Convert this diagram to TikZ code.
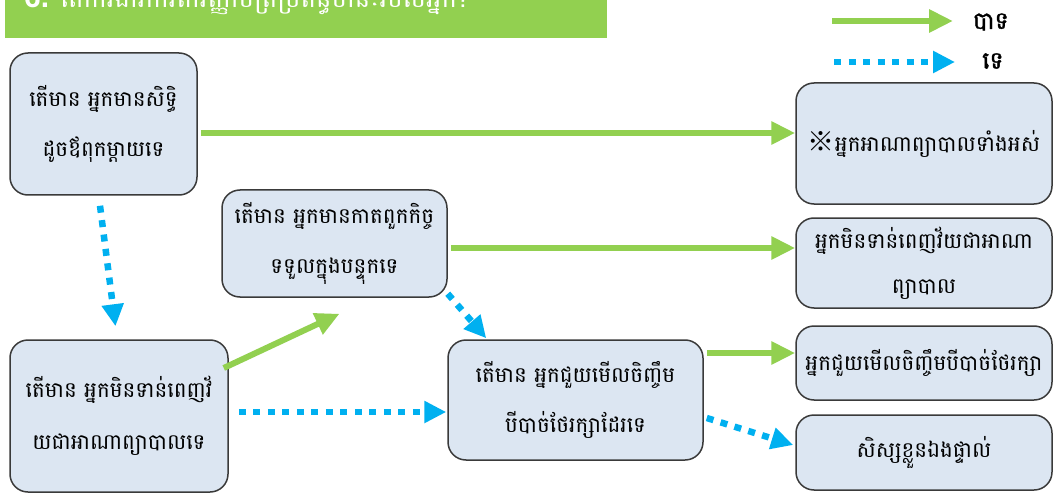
\documentclass[tikz,border=0pt]{standalone}
\usepackage{fontspec}
\usetikzlibrary{arrows.meta}
\newfontfamily\kh[Script=Khmer]{Battambang}
\newfontfamily\khb[Script=Khmer,FakeBold=1.6]{Battambang}
\newfontfamily\jpf{Noto Sans CJK JP}
\setsansfont{Liberation Sans}
\definecolor{ygreen}{HTML}{92D050}
\definecolor{yblue}{HTML}{00B0F0}
\definecolor{boxfill}{HTML}{DCE6F2}
\definecolor{boxline}{HTML}{3A3A3A}
\tikzset{
  qbox/.style={draw=boxline, line width=1.5pt, fill=boxfill, rounded corners=18pt,
    inner sep=0pt, align=center, font=\kh\fontsize{21.5}{50}\selectfont},
  yesarrow/.style={draw=ygreen, line width=6pt,
    -{Triangle[length=24pt,width=22pt,fill=ygreen]}},
  noarrow/.style={draw=yblue, line width=6.5pt, dash pattern=on 7pt off 7.5pt,
    -{Triangle[length=22pt,width=21pt,fill=yblue]}},
}
\begin{document}
\begin{tikzpicture}[x=1pt,y=-1pt]
\useasboundingbox (0,0) rectangle (1054,497);
\fill[white] (0,0) rectangle (1054,497);
% title banner
\fill[ygreen] (5,-5) rectangle (607,38);
\node[anchor=base west, text=white, inner sep=0pt] (title) at (24,8)
  {\sffamily\bfseries\fontsize{30}{30}\selectfont 6. \kh\mdseries\fontsize{26}{26}\selectfont តើការងារការពារញ្ញាបត្រប្រព័ន្ធឋានៈរបស់អ្នក?};
% legend
\node[anchor=center, inner sep=0pt, font=\khb\fontsize{24}{24}\selectfont] (yes) at (991,22) {បាទ};
\node[anchor=center, inner sep=0pt, font=\khb\fontsize{24}{24}\selectfont] (no) at (993,61) {ទេ};
\coordinate (ys) at (832,21);
\coordinate (ns) at (834,62);
\draw[yesarrow] (ys) -- (953,21);
\draw[noarrow] (ns) -- (955,62);
% boxes
\node[qbox, minimum width=187pt, minimum height=142pt] (A) at (103.5,124)
  {តើមាន អ្នកមានសិទ្ធិ\\ដូចឪពុកម្តាយទេ};
\node[qbox, minimum width=256pt, minimum height=121pt] (R1) at (924,143.5)
  {{\jpf\fontsize{27}{27}\selectfont ※}អ្នកអាណាព្យាបាលទាំងអស់};
\node[qbox, minimum width=225pt, minimum height=107pt] (B) at (334.5,243.5)
  {តើមាន អ្នកមានកាតពួកកិច្ច\\ទទួលក្នុងបន្ទុកទេ};
\node[qbox, minimum width=256pt, minimum height=90pt, font=\kh\fontsize{21.5}{45}\selectfont] (R2) at (924,263)
  {អ្នកមិនទាន់ពេញវ័យជាអាណា\\ព្យាបាល};
\node[qbox, minimum width=218pt, minimum height=152pt, font=\kh\fontsize{21.5}{52}\selectfont] (C) at (119,416)
  {តើមាន អ្នកមិនទាន់ពេញវ័\\យជាអាណាព្យាបាលទេ};
\node[qbox, minimum width=255pt, minimum height=120pt] (D) at (575.5,400)
  {តើមាន អ្នកជួយមើលចិញ្ចឹម\\បីបាច់ថែរក្សាដែរទេ};
\node[qbox, minimum width=256pt, minimum height=74pt] (R3) at (924,363)
  {អ្នកជួយមើលចិញ្ចឹមបីបាច់ថែរក្សា};
\node[qbox, minimum width=256pt, minimum height=75pt] (R4) at (924,452.5)
  {សិស្សខ្លួនឯងផ្ទាល់};
% connectors
\draw[yesarrow] ([xshift=3pt,yshift=-9pt]A.east) -- ([yshift=-9pt]A.east -| R1.west);
\draw[noarrow] ([xshift=-3.5pt,yshift=-10pt]A.south) -- ([xshift=-3.5pt,yshift=13pt]C.north);
\draw[yesarrow] ([xshift=-5pt,yshift=48pt]C.east) -- ([xshift=5pt,yshift=-16pt]B.south);
\draw[noarrow] ([xshift=10pt,yshift=4pt]C.east) -- ([xshift=-1pt,yshift=4pt]C.east -| D.west);
\draw[yesarrow] ([xshift=3pt,yshift=-4.5pt]B.east) -- ([yshift=-4.5pt]B.east -| R2.west);
\draw[noarrow] ([xshift=0pt,yshift=4pt]B.south east) -- ([xshift=39pt,yshift=1pt]D.north west);
\draw[yesarrow] ([xshift=3pt,yshift=47pt]D.east) -- ([yshift=47pt]D.east -| R3.west);
\draw[noarrow] ([xshift=3pt,yshift=-18pt]D.east) -- ([xshift=-2pt,yshift=7.5pt]R4.west);
\end{tikzpicture}
\end{document}
